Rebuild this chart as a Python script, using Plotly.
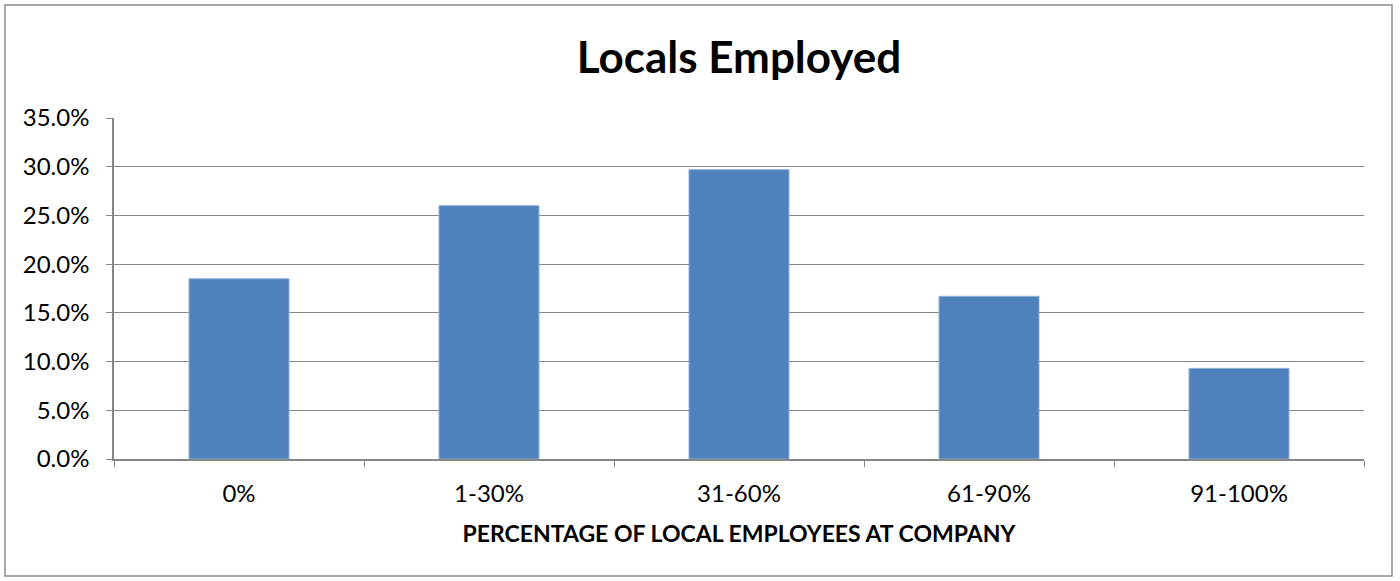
import plotly.graph_objects as go

# Share of companies by proportion of locally hired staff
categories = ["0%", "1-30%", "31-60%", "61-90%", "91-100%"]
shares = [0.185, 0.260, 0.297, 0.167, 0.093]

W, H = 1400, 581
ML, MR, MT, MB = 114, 36, 118, 122
PW, PH = W - ML - MR, H - MT - MB

FONT = "Lato, 'Open Sans', sans-serif"
GRID = "#868686"

fig = go.Figure(
    go.Bar(
        x=categories,
        y=shares,
        marker=dict(color="#4F81BD", line=dict(color="#8EB0DA", width=1)),
        width=0.4,
    )
)

# outer chart frame, expressed in paper units of the plot area
fx0, fx1 = (5 - ML) / PW, (1392 - ML) / PW
fy0, fy1 = -(MB - (H - 576)) / PH, 1 + (MT - 5) / PH
fig.add_shape(
    type="rect", xref="paper", yref="paper",
    x0=fx0, x1=fx1, y0=fy0, y1=fy1,
    line=dict(color="#8C8C8C", width=1.5), layer="below",
)

fig.update_layout(
    width=W, height=H,
    margin=dict(l=ML, r=MR, t=MT, b=MB),
    paper_bgcolor="white", plot_bgcolor="white",
    showlegend=False,
    title=dict(
        text="<b>Locals Employed</b>",
        x=0.5, xanchor="center", xref="paper",
        y=1 - 58 / H, yanchor="middle", yref="container",
        font=dict(family=FONT, size=44, color="black"),
    ),
    font=dict(family=FONT, color="black"),
)

fig.update_xaxes(
    type="category",
    tickson="boundaries",
    ticks="outside", ticklen=6, tickcolor=GRID, tickwidth=1,
    showline=True, linecolor=GRID, linewidth=1.5,
    showgrid=False,
    tickfont=dict(family=FONT, size=24, color="black"),
    ticklabelstandoff=12,
    title=dict(
        text="<b>PERCENTAGE OF LOCAL EMPLOYEES AT COMPANY</b>",
        font=dict(family=FONT, size=23, color="black"),
        standoff=20,
    ),
)

fig.update_yaxes(
    range=[0, 0.35], dtick=0.05, tick0=0, tickformat=".1%",
    ticks="outside", ticklen=6, tickcolor=GRID, tickwidth=1,
    showline=True, linecolor=GRID, linewidth=1.5,
    showgrid=True, gridcolor=GRID, gridwidth=1.3,
    zeroline=False,
    tickfont=dict(family=FONT, size=24, color="black"),
    ticklabelstandoff=12,
)

fig.write_html("out.html")
